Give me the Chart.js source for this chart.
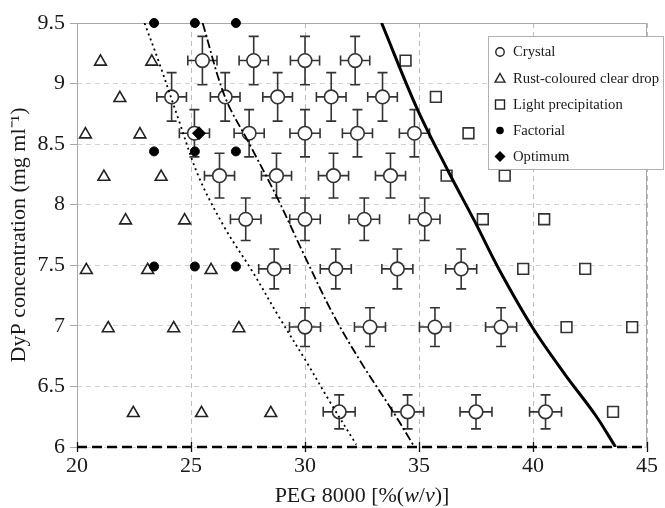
<!DOCTYPE html>
<html>
<head>
<meta charset="utf-8">
<script src="https://cdn.jsdelivr.net/npm/chart.js@4.4.1/dist/chart.umd.min.js"></script>
<style>
html,body{margin:0;padding:0;background:#fff;}
#wrap{width:665px;height:508px;position:relative;}
</style>
</head>
<body>
<div id="wrap"><canvas id="c" width="665" height="508"></canvas></div>
<script>
// ---- data ----
const crystalX = [25.5, 27.75, 30.0, 32.2,
  24.15, 26.5, 28.8, 31.15, 33.4,
  25.15, 27.55, 30.0, 32.3, 34.8,
  26.25, 28.75, 31.25, 33.75,
  27.4, 30.0, 32.6, 35.25,
  28.65, 31.35, 34.05, 36.85,
  30.0, 32.85, 35.7, 38.6,
  31.5, 34.5, 37.5, 40.55];
const crystalY = [9.19, 9.19, 9.19, 9.19,
  8.89, 8.89, 8.89, 8.89, 8.89,
  8.59, 8.59, 8.59, 8.59, 8.59,
  8.24, 8.24, 8.24, 8.24,
  7.88, 7.88, 7.88, 7.88,
  7.47, 7.47, 7.47, 7.47,
  6.99, 6.99, 6.99, 6.99,
  6.29, 6.29, 6.29, 6.29];
const crystalErrX = [0.64, 0.64, 0.64, 0.64,
  0.65, 0.65, 0.65, 0.65, 0.65,
  0.66, 0.66, 0.66, 0.66, 0.66,
  0.66, 0.66, 0.66, 0.66,
  0.67, 0.67, 0.67, 0.67,
  0.68, 0.68, 0.68, 0.68,
  0.68, 0.68, 0.68, 0.68,
  0.7, 0.7, 0.7, 0.7];
const crystalErrY = [0.2, 0.2, 0.2, 0.2,
  0.2, 0.2, 0.2, 0.2, 0.2,
  0.195, 0.195, 0.195, 0.195, 0.195,
  0.185, 0.185, 0.185, 0.185,
  0.175, 0.175, 0.175, 0.175,
  0.165, 0.165, 0.165, 0.165,
  0.16, 0.16, 0.16, 0.16,
  0.14, 0.14, 0.14, 0.14];

const rustX = [21.03, 23.28, 21.88, 20.37, 22.76, 21.18, 23.69, 22.13, 24.72,
  20.41, 23.1, 25.88, 21.37, 24.24, 27.1, 22.47, 25.46, 28.5];
const rustY = [9.18, 9.18, 8.88, 8.58, 8.58, 8.23, 8.23, 7.87, 7.87,
  7.46, 7.46, 7.46, 6.98, 6.98, 6.98, 6.28, 6.28, 6.28];

const precipX = [34.41, 35.74, 37.17, 36.21, 38.76, 37.8, 40.49, 39.57, 42.29, 41.47, 44.35, 43.51];
const precipY = [9.19, 8.89, 8.59, 8.24, 8.24, 7.88, 7.88, 7.47, 7.47, 6.99, 6.99, 6.29];

const factorialX = [23.38, 25.17, 26.97, 23.38, 25.17, 26.97, 23.38, 25.17, 26.97];
const factorialY = [9.5, 9.5, 9.5, 8.44, 8.44, 8.44, 7.49, 7.49, 7.49];

const optimumX = [25.35];
const optimumY = [8.59];

const solidX = [33.36, 34.9, 36.3, 37.45, 38.5, 40.0, 41.4, 42.75, 43.62];
const solidY = [9.5, 8.8, 8.27, 7.86, 7.47, 6.98, 6.6, 6.26, 6.0];

const dashDotX = [25.51, 26.49, 27.54, 28.75, 29.95, 31.22, 32.52, 33.9, 34.8];
const dashDotY = [9.5, 8.89, 8.51, 8.07, 7.59, 7.1, 6.68, 6.28, 6.0];

const dottedX = [22.96, 23.57, 24.46, 25.34, 26.51, 27.69, 28.87, 30.04, 31.07, 32.25];
const dottedY = [9.5, 9.19, 8.7, 8.23, 7.8, 7.45, 7.07, 6.71, 6.38, 6.02];

const baseX = [20, 45];
const baseY = [6, 6];

const xTicks = [20, 25, 30, 35, 40, 45];
const yTicks = [6, 6.5, 7, 7.5, 8, 8.5, 9, 9.5];

const legendLabels = ['Crystal', 'Rust-coloured clear drop', 'Light precipitation', 'Factorial', 'Optimum'];
const yTitle = 'DyP concentration (mg ml\u207B\u00B9)';

// ---- helpers ----
const pts = (xs, ys) => xs.map((v, i) => ({x: v, y: ys[i]}));
const FONT = 'Liberation Serif, Times New Roman, serif';

const framePlugin = {
  id: 'frame',
  beforeDatasetsDraw(chart) {
    const {ctx, chartArea: a, scales: {x, y}} = chart;
    ctx.save();
    ctx.strokeStyle = '#a8a8a8';
    ctx.lineWidth = 1;
    ctx.beginPath();
    ctx.moveTo(a.left + 0.5, a.bottom);
    ctx.lineTo(a.left + 0.5, a.top + 0.5);
    ctx.lineTo(a.right - 0.5, a.top + 0.5);
    ctx.lineTo(a.right - 0.5, a.bottom);
    ctx.stroke();
    // error bars of crystal points
    ctx.strokeStyle = '#333';
    ctx.lineWidth = 1.6;
    const cap = 5;
    for (let i = 0; i < crystalX.length; i++) {
      const px = x.getPixelForValue(crystalX[i]);
      const py = y.getPixelForValue(crystalY[i]);
      const x0 = x.getPixelForValue(crystalX[i] - crystalErrX[i]);
      const x1 = x.getPixelForValue(crystalX[i] + crystalErrX[i]);
      const y0 = y.getPixelForValue(crystalY[i] + crystalErrY[i]);
      const y1 = y.getPixelForValue(crystalY[i] - crystalErrY[i]);
      ctx.beginPath();
      ctx.moveTo(x0, py); ctx.lineTo(x1, py);
      ctx.moveTo(px, y0); ctx.lineTo(px, y1);
      ctx.moveTo(x0, py - cap); ctx.lineTo(x0, py + cap);
      ctx.moveTo(x1, py - cap); ctx.lineTo(x1, py + cap);
      ctx.moveTo(px - cap, y0); ctx.lineTo(px + cap, y0);
      ctx.moveTo(px - cap, y1); ctx.lineTo(px + cap, y1);
      ctx.stroke();
    }
    ctx.restore();
  },
  afterDatasetsDraw(chart) {
    const {ctx, chartArea: a, scales: {x}} = chart;
    ctx.save();
    ctx.strokeStyle = '#111';
    ctx.lineWidth = 1.3;
    ctx.beginPath();
    xTicks.forEach(v => {
      const px = Math.round(x.getPixelForValue(v)) + 0.5;
      ctx.moveTo(px, a.bottom - 5);
      ctx.lineTo(px, a.bottom + 5);
    });
    ctx.stroke();
    ctx.restore();
  },
  afterDraw(chart) {
    const {ctx, chartArea: a} = chart;
    ctx.save();
    // x axis title with italic parts
    const parts = [['PEG 8000 [%(', ''], ['w', 'italic '], ['/', ''], ['v', 'italic '], [')]', '']];
    let total = 0;
    parts.forEach(p => { ctx.font = p[1] + '22px ' + FONT; total += ctx.measureText(p[0]).width; });
    let cx = (a.left + a.right) / 2 - total / 2;
    ctx.fillStyle = '#1a1a1a';
    ctx.textBaseline = 'alphabetic';
    ctx.textAlign = 'left';
    parts.forEach(p => {
      ctx.font = p[1] + '22px ' + FONT;
      ctx.fillText(p[0], cx, 502);
      cx += ctx.measureText(p[0]).width;
    });

    // legend
    const lx = 488, ly = 36, lw = 175, lh = 133;
    ctx.fillStyle = '#fff';
    ctx.fillRect(lx, ly, lw, lh);
    ctx.strokeStyle = '#b0b0b0';
    ctx.lineWidth = 1;
    ctx.strokeRect(lx + 0.5, ly + 0.5, lw, lh);
    const rows = [52, 78.5, 104.5, 130.5, 156.5];
    const mx = 500;
    ctx.strokeStyle = '#222';
    ctx.fillStyle = '#000';
    ctx.lineWidth = 1.4;
    ctx.beginPath(); ctx.arc(mx, rows[0], 4.2, 0, Math.PI * 2); ctx.stroke();
    ctx.beginPath();
    ctx.moveTo(mx, rows[1] - 5); ctx.lineTo(mx + 4.9, rows[1] + 3.6); ctx.lineTo(mx - 4.9, rows[1] + 3.6); ctx.closePath(); ctx.stroke();
    ctx.strokeRect(mx - 4.5, rows[2] - 4.5, 9, 9);
    ctx.beginPath(); ctx.arc(mx, rows[3], 3.8, 0, Math.PI * 2); ctx.fill();
    ctx.beginPath();
    ctx.moveTo(mx, rows[4] - 5.5); ctx.lineTo(mx + 5.5, rows[4]); ctx.lineTo(mx, rows[4] + 5.5); ctx.lineTo(mx - 5.5, rows[4]); ctx.closePath(); ctx.fill();
    ctx.font = '14.7px ' + FONT;
    ctx.fillStyle = '#1a1a1a';
    ctx.textBaseline = 'middle';
    legendLabels.forEach((t, i) => ctx.fillText(t, 513, rows[i] + 0.5));
    ctx.restore();
  }
};

const lineStyle = (xs, ys, width, dash, order) => ({
  data: pts(xs, ys),
  showLine: true,
  borderColor: '#000',
  borderWidth: width,
  borderDash: dash,
  pointRadius: 0,
  pointHoverRadius: 0,
  fill: false,
  tension: 0.35,
  order: order
});

new Chart(document.getElementById('c'), {
  type: 'scatter',
  data: {
    datasets: [
      Object.assign(lineStyle(baseX, baseY, 2.6, [10, 5], 0), {label: 'base', clip: false, tension: 0}),
      Object.assign(lineStyle(solidX, solidY, 3, [], 0), {label: 'solid'}),
      Object.assign(lineStyle(dashDotX, dashDotY, 1.8, [9, 3, 2, 3], 0), {label: 'dashdot'}),
      Object.assign(lineStyle(dottedX, dottedY, 1.8, [2, 3.5], 0), {label: 'dotted'}),
      {label: legendLabels[4], data: pts(optimumX, optimumY), pointStyle: 'rectRot', pointRadius: 6.5,
        backgroundColor: '#000', borderColor: '#000', borderWidth: 1, order: 1, clip: false},
      {label: legendLabels[3], data: pts(factorialX, factorialY), pointStyle: 'circle', pointRadius: 4.5,
        backgroundColor: '#000', borderColor: '#000', borderWidth: 1, order: 2, clip: false},
      {label: legendLabels[0], data: pts(crystalX, crystalY), pointStyle: 'circle', pointRadius: 6.8,
        backgroundColor: '#fff', borderColor: '#333', borderWidth: 1.6, order: 3, clip: false},
      {label: legendLabels[1], data: pts(rustX, rustY), pointStyle: 'triangle', pointRadius: 6.8,
        backgroundColor: '#fff', borderColor: '#222', borderWidth: 1.6, order: 4, clip: false},
      {label: legendLabels[2], data: pts(precipX, precipY), pointStyle: 'rect', pointRadius: 7.6,
        backgroundColor: '#fff', borderColor: '#333', borderWidth: 1.6, order: 5, clip: false}
    ]
  },
  options: {
    responsive: false,
    devicePixelRatio: 1,
    animation: false,
    events: [],
    layout: {padding: {top: 23, right: 18, left: 0, bottom: 0}},
    plugins: {legend: {display: false}, tooltip: {enabled: false}},
    scales: {
      x: {
        type: 'linear', min: 20, max: 45,
        afterBuildTicks: s => { s.ticks = xTicks.map(v => ({value: v})); },
        afterFit: s => { s.height = 61; },
        ticks: {font: {family: FONT, size: 22}, color: '#1a1a1a', padding: 6, maxRotation: 0,
          callback: v => String(v)},
        grid: {color: '#bdbdbd', lineWidth: 1, drawTicks: false},
        border: {display: false, dash: [5, 4]},
        title: {display: false}
      },
      y: {
        type: 'linear', min: 6, max: 9.5,
        afterBuildTicks: s => { s.ticks = yTicks.map(v => ({value: v})); },
        afterFit: s => { s.width = 77; },
        ticks: {font: {family: FONT, size: 22}, color: '#1a1a1a', padding: 5,
          callback: v => String(v)},
        grid: {color: '#d2d2d2', lineWidth: 1, drawTicks: true, tickLength: 7, tickColor: '#a8a8a8'},
        border: {display: false, dash: [5, 4]},
        title: {display: true, text: yTitle, font: {family: FONT, size: 22}, color: '#1a1a1a', padding: {top: 6, bottom: 0}}
      }
    }
  },
  plugins: [framePlugin]
});
</script>
</body>
</html>
